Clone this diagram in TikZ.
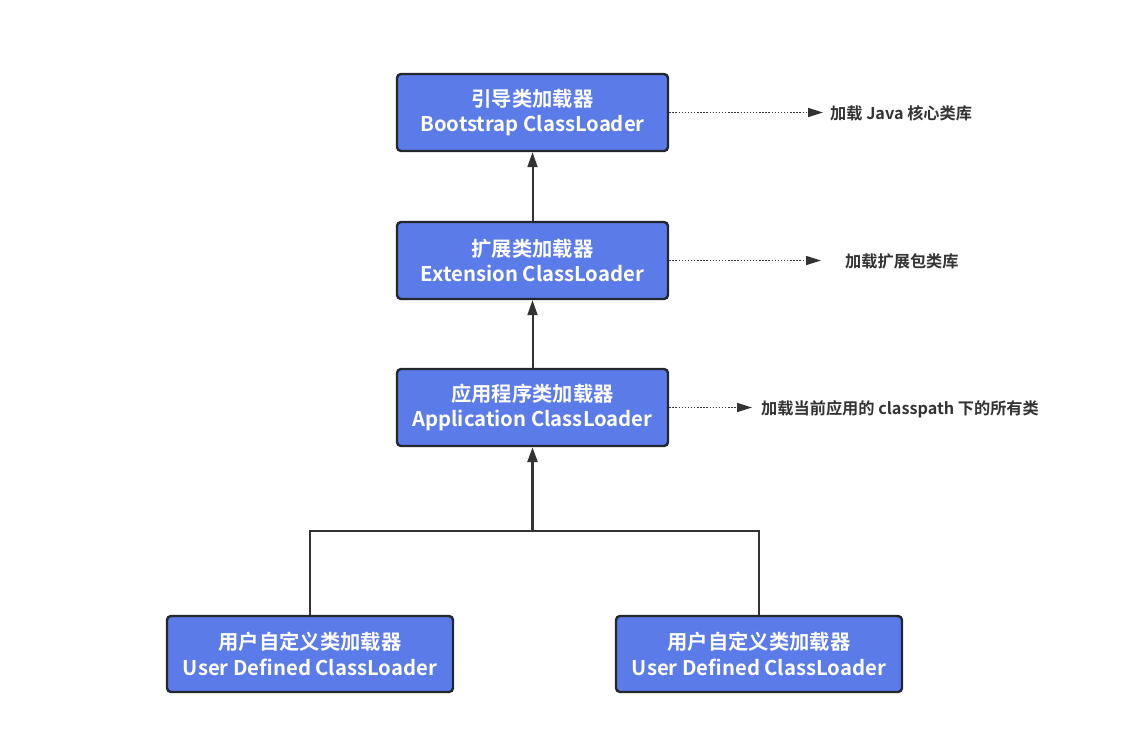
\documentclass[tikz,border=0pt]{standalone}
\usepackage{fontspec}
\setmainfont{Noto Sans CJK SC}[BoldFont={Noto Sans CJK SC Bold}]
\usetikzlibrary{arrows.meta}
\definecolor{boxfill}{HTML}{5B7BE8}
\definecolor{boxline}{HTML}{23272E}
\definecolor{arr}{HTML}{333333}
\tikzset{
  loader/.style={draw=boxline, line width=2.4pt, fill=boxfill, rounded corners=4pt,
    minimum width=271pt, minimum height=77pt, inner sep=0pt, align=center,
    text=white, font=\fontsize{20.3}{25.5}\selectfont\bfseries},
  userloader/.style={loader, minimum width=286pt, minimum height=76pt},
  note/.style={anchor=west, inner sep=0pt, text=arr, font=\fontsize{16.2}{19}\selectfont\bfseries},
  uparrow/.style={draw=arr, line width=2pt, -{Triangle[length=15pt,width=10pt]}},
  dotarrow/.style={draw=arr, line width=1.6pt, dash pattern=on 1.4pt off 1.7pt,
    -{Triangle[length=15pt,width=9pt,fill=arr]}},
  branch/.style={draw=arr, line width=1.6pt},
}
\begin{document}
\begin{tikzpicture}[x=1pt,y=-1pt]
\useasboundingbox (0,0) rectangle (1131,740);
\node[loader] (boot) at (532.5,112.5) {引导类加载器\\Bootstrap ClassLoader};
\node[loader] (ext) at (532.5,260.5) {扩展类加载器\\Extension ClassLoader};
\node[loader] (app) at (532.5,407.5) {应用程序类加载器\\Application ClassLoader};
\node[userloader] (u1) at (310,654) {用户自定义类加载器\\User Defined ClassLoader};
\node[userloader] (u2) at (759,654) {用户自定义类加载器\\User Defined ClassLoader};

\node[note] (n1) at (830,113) {加载 Java 核心类库};
\node[note] (n2) at (845,261) {加载扩展包类库};
\node[note] (n3) at (761,409) {加载当前应用的 classpath 下的所有类};

\draw[uparrow] (ext.north) -- (boot.south);
\draw[uparrow] (app.north) -- (ext.south);

\coordinate (jn) at (532.5,531);
\draw[branch] (u1.north) |- (jn) -| (u2.north);
\draw[uparrow, line width=2.6pt] (jn) -- (app.south);

\draw[dotarrow, shorten >=7pt] (boot.east) -- (boot.east -| n1.west);
\draw[dotarrow, shorten >=24pt] (ext.east) -- (ext.east -| n2.west);
\draw[dotarrow, shorten >=9pt] (app.east) -- (app.east -| n3.west);
\end{tikzpicture}
\end{document}
